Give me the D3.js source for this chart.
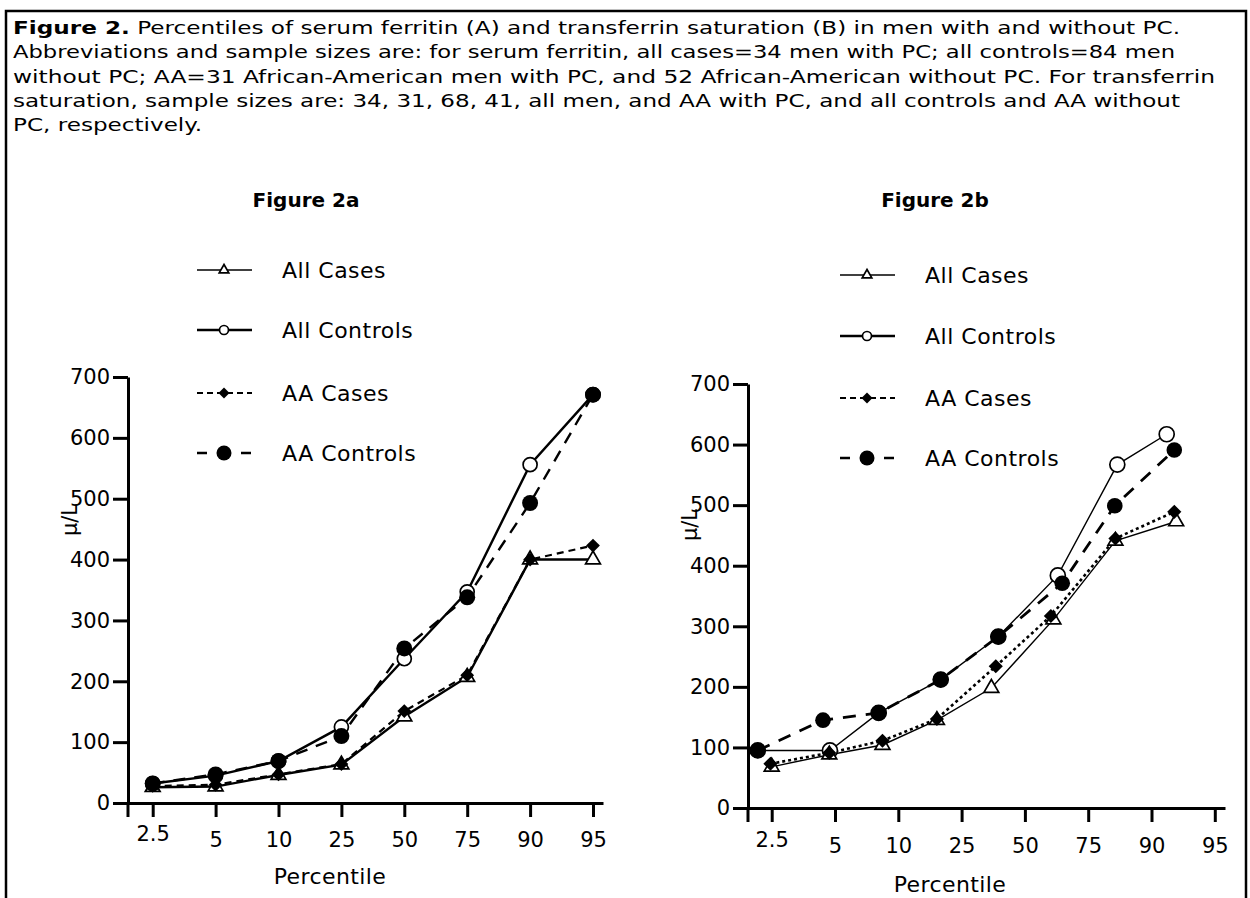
<!DOCTYPE html>
<html>
<head>
<meta charset="utf-8">
<script src="https://cdn.jsdelivr.net/npm/d3@7"></script>
<style>
  body { margin: 0; background: #fff; }
  text { font-family: "DejaVu Sans", sans-serif; fill: #000; }
</style>
</head>
<body>
<div id="chart"></div>
<script>
// percentile categories on the x axis
const percentiles = ["2.5", "5", "10", "25", "50", "75", "90", "95"];
const yTicks = [0, 100, 200, 300, 400, 500, 600, 700];
const seriesNames = ["All Cases", "All Controls", "AA Cases", "AA Controls"];

// Figure 2a - serum ferritin, points sit on the ticks
const aAllCases    = [26, 27, 46, 63, 142, 207, 400, 400];
const aAllControls = [32, 45, 69, 125, 237, 347, 556, 671];
const aAACases     = [28, 30, 47, 64, 151, 210, 400, 423];
const aAAControls  = [32, 47, 69, 110, 254, 338, 493, 671];

// Figure 2b - transferrin saturation
// here the points are offset from the ticks, so every series keeps its own x (in tick units)
const bAllCasesX    = [0, 0.91, 1.75, 2.61, 3.47, 4.45, 5.43, 6.39];
const bAllCases     = [68, 88, 104, 145, 198, 311, 441, 473];
const bAllControlsX = [-0.22, 0.92, 1.69, 2.67, 3.58, 4.52, 5.46, 6.24];
const bAllControls  = [95, 95, 157, 212, 283, 384, 567, 617];
const bAACasesX     = [-0.02, 0.91, 1.75, 2.61, 3.54, 4.41, 5.43, 6.36];
const bAACases      = [73, 91, 111, 147, 234, 317, 445, 489];
const bAAControlsX  = [-0.22, 0.81, 1.69, 2.67, 3.58, 4.59, 5.42, 6.36];
const bAAControls   = [95, 145, 157, 212, 283, 371, 499, 591];

const captionBold = "Figure 2.";
const captionLines = [
  " Percentiles of serum ferritin (A) and transferrin saturation (B) in men with and without PC.",
  "Abbreviations and sample sizes are: for serum ferritin, all cases=34 men with PC; all controls=84 men",
  "without PC; AA=31 African-American men with PC, and 52 African-American without PC. For transferrin",
  "saturation, sample sizes are: 34, 31, 68, 41, all men, and AA with PC, and all controls and AA without",
  "PC, respectively."
];

const svg = d3.select("#chart").append("svg")
  .attr("width", 1250)
  .attr("height", 898);

svg.append("rect").attr("width", 1250).attr("height", 898).attr("fill", "#fff");

// outer frame (bottom runs off the page)
svg.append("path")
  .attr("d", "M6,910V11H1246V910")
  .attr("fill", "none")
  .attr("stroke", "#000")
  .attr("stroke-width", 2.5);

// caption, each line stretched to the width it has in the print
const lineEnds = [1180, 1175, 1215, 1180, 202];
captionLines.forEach((line, i) => {
  const t = svg.append("text")
    .attr("x", 13)
    .attr("y", 34 + i * 24.3)
    .attr("font-size", 18.5)
    .attr("textLength", lineEnds[i] - 13)
    .attr("lengthAdjust", "spacingAndGlyphs");
  if (i === 0) t.append("tspan").attr("font-weight", "bold").text(captionBold);
  t.append("tspan").text(line);
});

const marker = {
  triangle: (g, cx, cy, s) => g.append("path")
    .attr("d", d3.symbol(d3.symbolTriangle, s)())
    .attr("transform", `translate(${cx},${cy})`)
    .attr("fill", "#fff").attr("stroke", "#000").attr("stroke-width", 1.7),
  open: (g, cx, cy, s) => g.append("circle")
    .attr("cx", cx).attr("cy", cy).attr("r", s)
    .attr("fill", "#fff").attr("stroke", "#000").attr("stroke-width", 1.7),
  diamond: (g, cx, cy, s) => g.append("path")
    .attr("d", d3.symbol(d3.symbolSquare, s)())
    .attr("transform", `translate(${cx},${cy}) rotate(45)`)
    .attr("fill", "#000"),
  filled: (g, cx, cy, s) => g.append("circle")
    .attr("cx", cx).attr("cy", cy).attr("r", s)
    .attr("fill", "#000")
};

// open markers first so the filled ones sit on top
const drawOrder = [1, 0, 2, 3];

function drawPanel(p) {
  const g = svg.append("g");

  const x = d3.scaleLinear()
    .domain([(p.x0 - p.tick0) / p.step, (p.x1 - p.tick0) / p.step])
    .range([p.x0, p.x1]);
  const y = d3.scaleLinear().domain([0, 700]).range([p.yBottom, p.yTop]);

  // axes
  const xAxis = g.append("g")
    .attr("transform", `translate(0,${p.yBottom})`)
    .call(d3.axisBottom(x)
      .tickValues(d3.range(percentiles.length))
      .tickFormat(i => percentiles[i])
      .tickSize(14).tickSizeOuter(0).tickPadding(p.xPad));
  xAxis.selectAll(".tick text").attr("dy", d => d === 0 ? "0.45em" : "0.71em");

  const yAxis = g.append("g")
    .attr("transform", `translate(${p.x0},0)`)
    .call(d3.axisLeft(y).tickValues(yTicks).tickSize(15).tickSizeOuter(0).tickPadding(3));

  [xAxis, yAxis].forEach(a => {
    a.attr("font-family", null).attr("font-size", 21);
    a.selectAll("path, line").attr("stroke-width", 3);
  });
  // vertical axis runs a little below the origin
  g.append("line")
    .attr("x1", p.x0).attr("x2", p.x0)
    .attr("y1", p.yBottom).attr("y2", p.yBottom + 14)
    .attr("stroke", "#000").attr("stroke-width", 3);

  // lines
  drawOrder.forEach(k => {
    const s = p.series[k];
    const line = d3.line().x((d, i) => x(s.xs[i])).y(d => y(d));
    g.append("path")
      .datum(s.values)
      .attr("d", line)
      .attr("fill", "none")
      .attr("stroke", "#000")
      .attr("stroke-width", s.width)
      .attr("stroke-dasharray", s.dash);
  });
  // markers
  drawOrder.forEach(k => {
    const s = p.series[k];
    s.values.forEach((v, i) => marker[s.mark](g, x(s.xs[i]), y(v), s.size));
  });

  // legend
  p.series.forEach((s, k) => {
    const ly = p.legendY[k];
    g.append("line")
      .attr("x1", p.legendX).attr("x2", p.legendX + 55)
      .attr("y1", ly).attr("y2", ly)
      .attr("stroke", "#000")
      .attr("stroke-width", s.legendWidth)
      .attr("stroke-dasharray", s.legendDash);
    marker[s.mark](g, p.legendX + 27, ly, s.legendSize);
    g.append("text")
      .attr("x", p.legendX + 85)
      .attr("y", ly + 8)
      .attr("font-size", 22)
      .attr("letter-spacing", 0.5)
      .text(seriesNames[k]);
  });

  // titles
  g.append("text")
    .attr("x", p.titleX).attr("y", 207)
    .attr("text-anchor", "middle")
    .attr("font-size", 20).attr("font-weight", "bold")
    .text(p.title);
  g.append("text")
    .attr("x", p.xTitleX).attr("y", p.xTitleY)
    .attr("text-anchor", "middle")
    .attr("font-size", 22)
    .attr("letter-spacing", 0.4)
    .text("Percentile");
  g.append("text")
    .attr("transform", `translate(${p.yTitleX},${p.yTitleY}) rotate(-90)`)
    .attr("text-anchor", "middle")
    .attr("font-size", 21)
    .text("µ/L");
}

const ticks8 = d3.range(percentiles.length);

// series listed in legend order
drawPanel({
  title: "Figure 2a", titleX: 306,
  x0: 128, x1: 603, tick0: 152.7, step: 62.9,
  yBottom: 803, yTop: 377, xPad: 15,
  legendX: 197, legendY: [270, 330, 393, 453],
  xTitleX: 330, xTitleY: 884, yTitleX: 77, yTitleY: 520,
  series: [
    { xs: ticks8, values: aAllCases, mark: "triangle", size: 95, width: 2.4, dash: null,
      legendWidth: 1.6, legendDash: null, legendSize: 40 },
    { xs: ticks8, values: aAllControls, mark: "open", size: 7, width: 2.4, dash: null,
      legendWidth: 2.6, legendDash: null, legendSize: 4.5 },
    { xs: ticks8, values: aAACases, mark: "diamond", size: 95, width: 2.2, dash: "7,5",
      legendWidth: 2, legendDash: "6,4", legendSize: 60 },
    { xs: ticks8, values: aAAControls, mark: "filled", size: 8, width: 2.4, dash: "12,9",
      legendWidth: 2.4, legendDash: "10,12", legendSize: 7.5 }
  ]
});

drawPanel({
  title: "Figure 2b", titleX: 935,
  x0: 748, x1: 1225, tick0: 771.7, step: 63.3,
  yBottom: 808, yTop: 384, xPad: 16,
  legendX: 840, legendY: [275, 336, 398, 458],
  xTitleX: 950, xTitleY: 892, yTitleX: 697, yTitleY: 525,
  series: [
    { xs: bAllCasesX, values: bAllCases, mark: "triangle", size: 95, width: 1.4, dash: null,
      legendWidth: 1.6, legendDash: null, legendSize: 40 },
    { xs: bAllControlsX, values: bAllControls, mark: "open", size: 7.5, width: 1.4, dash: null,
      legendWidth: 2.6, legendDash: null, legendSize: 4.5 },
    { xs: bAACasesX, values: bAACases, mark: "diamond", size: 100, width: 2.6, dash: "3,3",
      legendWidth: 2, legendDash: "6,4", legendSize: 60 },
    { xs: bAAControlsX, values: bAAControls, mark: "filled", size: 7.8, width: 2.8, dash: "13,10",
      legendWidth: 2.4, legendDash: "10,12", legendSize: 7.5 }
  ]
});
</script>
</body>
</html>
